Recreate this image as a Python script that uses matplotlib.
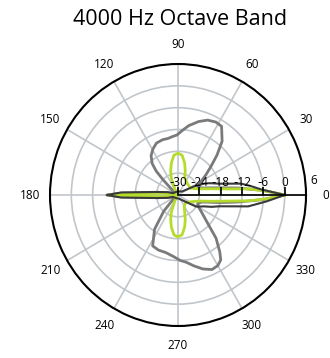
import numpy as np
import matplotlib.pyplot as plt

# angles in degrees, level in dB
ang_dark = [0, 3.7, 7, 10, 15, 20, 23, 28, 40, 80, 120, 160, 165, 172, 176, 177.5,
            180, 182.5, 184, 188, 195, 200, 240, 280, 320, 328, 333, 337, 341, 345,
            351, 356, 360]
db_dark = [0, -6.5, -9.5, -12, -18, -20.5, -22, -25, -28.5, -29, -29, -28.5, -27, -24,
           -19, -14, -10, -14, -19, -24, -27, -28.5, -29, -29, -27, -24, -23, -22,
           -20, -18, -10, -5, 0]

ang_gray = [0, 3, 6.5, 9.5, 12.7, 16, 22, 30, 35, 40, 45, 50, 57, 62, 68, 74, 81,
            86, 91, 96, 100, 106, 113, 119, 125, 130, 133, 135, 140, 150, 160, 168,
            174, 177, 178.2, 180, 181.8, 183, 186, 192, 210, 222, 228, 235, 243, 250,
            258, 266, 272, 277, 283, 289, 295, 300, 304, 307, 312, 319, 325, 330,
            337, 344, 347.3, 350, 353.5, 357, 360]
db_gray = [0, -6, -13, -18, -21, -23, -24, -22.5, -20.5, -18, -14.5, -10.7, -7.5,
           -7.3, -7.8, -9, -10.7, -12.2, -13.5, -13.9, -14.2, -14.2, -14.5, -15.5,
           -16.8, -18.7, -21, -24, -28, -29, -28.5, -27, -24, -19, -14, -10, -14, -19,
           -24, -27, -29, -28, -24, -18.5, -14.3, -13.9, -13.8, -13, -12, -11.4, -10,
           -8.5, -7.4, -7.6, -8.5, -10.5, -14, -19.7, -22, -23.3, -24, -23, -21,
           -18, -13, -6, 0]

ang_lime = [0, 2.4, 4.8, 6.6, 11, 16, 28, 45, 60, 68, 73, 78, 84, 90, 96, 102, 107,
            112, 118, 140, 165, 173, 178, 179.2, 180, 180.8, 182, 187, 195, 220, 242,
            248, 253, 258, 264, 270, 276, 282, 287, 292, 300, 315, 332, 344, 349,
            353.4, 355.4, 357.6, 360]
db_lime = [0, -5, -10, -15.5, -21, -24, -26, -26, -25.5, -25, -23, -21, -19, -18.5,
           -19, -21, -23, -25, -28, -29.5, -29, -26, -19, -14, -10.5, -14, -19, -26,
           -29, -29.5, -28, -25, -23, -21, -19, -18.5, -19, -21, -23, -25, -26.5,
           -27, -26, -24, -21, -15.5, -10, -5, 0]

angle_ticks = list(range(0, 360, 30))
r_ticks = [-30, -24, -18, -12, -6, 0, 6]
r_min, r_max = -30, 6

fig = plt.figure(figsize=(3.3, 3.58), dpi=100)
plt.rcParams['font.family'] = ['Open Sans', 'DejaVu Sans']
ax = fig.add_axes([0.1515, 0.0894, 0.7758, 0.7318], projection='polar')
ax.set_aspect('auto')

ax.plot(np.deg2rad(ang_gray), db_gray, color='#7a7a7a', lw=2.0, zorder=3)
ax.plot(np.deg2rad(ang_dark), db_dark, color='#3a3a3a', lw=1.5, zorder=4)
ax.plot(np.deg2rad(ang_lime), db_lime, color='#b5dc2c', lw=2.0, zorder=3)

ax.set_rlim(r_min, r_max)
ax.set_rgrids(r_ticks[1:-1], labels=[''] * (len(r_ticks) - 2))
ax.set_thetagrids(angle_ticks, labels=[str(a) for a in angle_ticks], fontsize=8.5)
ax.grid(True, color='#c1c6cb', lw=1.2)
ax.spines['polar'].set_color('black')
ax.spines['polar'].set_linewidth(1.5)
ax.tick_params(axis='x', direction='inout', length=6, width=1.2, color='black', pad=4)

# radial axis along 0 degrees with ticks and labels
ax.plot([0, 0], [r_min, r_max], color='black', lw=1.2, zorder=5)
ax.plot([0] * len(r_ticks), r_ticks, ls='none', marker=2, ms=6, mew=1.2,
        color='black', zorder=5)
for r in r_ticks:
    last = r == r_ticks[-1]
    ax.annotate(str(r).replace('-', '\u2010'), (0, r),
                xytext=(3 if last else 0, 4 if not last else 6),
                textcoords='offset points', ha='left' if last else 'center',
                va='bottom', fontsize=8.5, zorder=6)

fig.suptitle('4000 Hz Octave Band', x=0.545, y=0.975, fontsize=15.5)

plt.savefig('out.png', dpi=100)
